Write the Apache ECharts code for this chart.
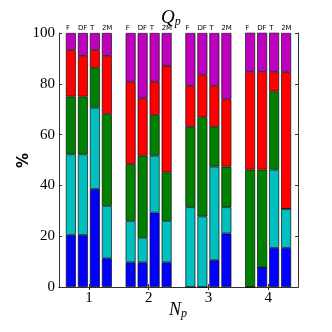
<!DOCTYPE html>
<html>
<head>
<meta charset="utf-8">
<script src="https://cdn.jsdelivr.net/npm/echarts@6/dist/echarts.min.js"></script>
<style>
  html, body { margin: 0; padding: 0; background: #fff; }
  #chart { width: 332px; height: 332px; }
</style>
</head>
<body>
<div id="chart"></div>
<script>
// groups on the x axis (N_p) and the four bars in each group
const groups = ["1", "2", "3", "4"];
const barNames = ["F", "DF", "T", "2M"];
const yTicks = [0, 20, 40, 60, 80, 100];

// segment heights in %, ordered group by group: [1F, 1DF, 1T, 1-2M, 2F, ...]
const blue = [20.5, 20.5, 38.6, 11.3, 9.7, 9.7, 29.3, 9.7, 0, 0, 10.6, 21.1, 0, 7.7, 15.4, 15.4];
const cyan = [31.7, 31.7, 32.0, 20.6, 16.3, 9.7, 22.4, 16.3, 31.4, 27.8, 36.8, 10.3, 0, 0, 30.8, 15.4];
const green = [22.8, 22.8, 15.7, 36.2, 22.4, 32.3, 16.0, 19.1, 31.7, 39.0, 15.7, 16.0, 46.2, 38.5, 30.8, 0];
const red = [18.3, 16.0, 7.0, 22.9, 32.4, 22.6, 13.1, 42.0, 16.0, 16.7, 16.0, 26.5, 38.5, 38.5, 7.7, 53.8];
const magenta = [6.7, 9.0, 6.7, 9.0, 19.2, 25.7, 19.2, 12.9, 20.9, 16.5, 20.9, 26.1, 15.4, 15.4, 15.4, 15.4];

const layers = [
  { data: blue, color: "#0000ff" },
  { data: cyan, color: "#00bfbf" },
  { data: green, color: "#008000" },
  { data: red, color: "#ff0000" },
  { data: magenta, color: "#bf00bf" }
];

const serif = "Liberation Serif";
const series = [];
barNames.forEach((bar, b) => {
  layers.forEach((layer, li) => {
    const s = {
      type: "bar",
      stack: bar,
      barWidth: 10,
      barGap: "20%",
      data: groups.map((g, gi) => layer.data[gi * 4 + b]),
      itemStyle: { color: layer.color, borderColor: "#111", borderWidth: 0.7 },
      emphasis: { disabled: true }
    };
    if (li === layers.length - 1) {
      // bar name printed just above the frame, left aligned on the bar
      s.label = {
        show: true,
        position: [0, -1],
        align: "left",
        verticalAlign: "bottom",
        formatter: () => bar,
        fontSize: 7,
        fontFamily: "DejaVu Sans",
        color: "#000"
      };
    }
    series.push(s);
  });
});

const axisLine = { show: true, lineStyle: { color: "#333", width: 1 } };

const chart = echarts.init(document.getElementById("chart"));
chart.setOption({
  animation: false,
  title: {
    text: "{q|Q}{p|p}",
    left: 156,
    top: 3,
    textStyle: {
      fontWeight: "normal",
      rich: {
        q: { fontFamily: serif, fontStyle: "italic", fontWeight: "normal", fontSize: 19, color: "#000" },
        p: { fontFamily: serif, fontStyle: "italic", fontWeight: "normal", fontSize: 12, color: "#000", padding: [8, 0, 0, 0] }
      }
    }
  },
  graphic: [
    {
      type: "text",
      left: 169,
      top: 301,
      style: {
        text: "{n|N}{p|p}",
        rich: {
          n: { fontFamily: serif, fontStyle: "italic", fontSize: 18, fill: "#000" },
          p: { fontFamily: serif, fontStyle: "italic", fontSize: 12, fill: "#000", padding: [8, 0, 0, 0] }
        }
      }
    },
    {
      type: "text",
      x: 17,
      y: 168,
      rotation: Math.PI / 2,
      style: { text: "%", font: "bold 15px DejaVu Sans", fill: "#000" }
    }
  ],
  grid: { left: 59, right: 34, top: 33, bottom: 45 },
  xAxis: [
    {
      type: "category",
      data: groups,
      axisLine: axisLine,
      axisTick: { show: true, inside: true, length: 3, alignWithLabel: true, lineStyle: { color: "#333" } },
      axisLabel: { fontFamily: serif, fontSize: 15, color: "#000", margin: 4 }
    },
    {
      type: "category",
      position: "top",
      data: groups,
      axisLine: axisLine,
      axisTick: { show: true, inside: true, length: 3, alignWithLabel: true, lineStyle: { color: "#333" } },
      axisLabel: { show: false }
    }
  ],
  yAxis: [
    {
      type: "value",
      min: 0,
      max: 100,
      interval: 20,
      axisLine: axisLine,
      axisTick: { show: true, inside: true, length: 3, lineStyle: { color: "#333" } },
      axisLabel: {
        fontFamily: serif, fontSize: 15, color: "#000", margin: 4,
        formatter: v => (yTicks.includes(v) ? String(v) : "")
      },
      splitLine: { show: false }
    },
    {
      type: "value",
      position: "right",
      min: 0,
      max: 100,
      interval: 20,
      axisLine: axisLine,
      axisTick: { show: true, inside: true, length: 3, lineStyle: { color: "#333" } },
      axisLabel: { show: false },
      splitLine: { show: false }
    }
  ],
  series: series
});
</script>
</body>
</html>
